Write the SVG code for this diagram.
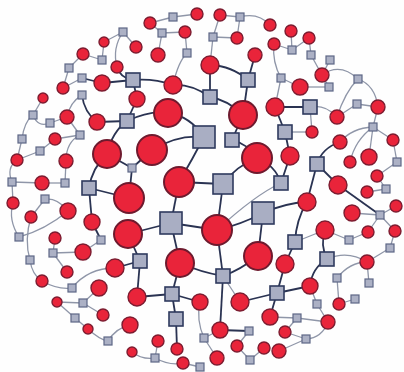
<svg xmlns="http://www.w3.org/2000/svg" width="404" height="372" viewBox="0 0 404 372">
<style>
.c{fill:#e9243a;stroke:#7c1c30;stroke-width:1.4}
.cb{fill:#e9243a;stroke:#6e1a2e;stroke-width:2}
.sm{fill:#acb1c5;stroke:#5d6685;stroke-width:1.2}
.sq{fill:#a9aec3;stroke:#2f3a5e;stroke-width:1.6}
.ed{fill:none;stroke:#2a3352;stroke-width:1.8}
.el{fill:none;stroke:#8f96a8;stroke-width:1.3}
</style>
<rect width="404" height="372" fill="#fefefe"/>
<g id="connectors">
<g class="ed">
<path d="M133 80 L102 83"/><path d="M133 80 Q153 78 173 85"/><path d="M133 80 L137 99"/><path d="M133 80 Q120 78 117 67"/>
<path d="M127 121 L137 99"/><path d="M127 121 L97 122"/><path d="M127 121 Q112 132 107 154"/><path d="M173 85 Q192 84 210 97"/>
<path d="M210 65 L210 97"/><path d="M210 65 Q232 66 248 80"/><path d="M248 80 L243 115"/><path d="M248 80 L255 55"/>
<path d="M210 97 Q228 100 243 115"/><path d="M168 113 Q190 116 204 137"/><path d="M204 137 Q178 134 152 150"/><path d="M204 137 Q192 160 179 182"/>
<path d="M232 140 Q248 144 257 158"/><path d="M257 158 Q275 165 281 183"/><path d="M179 182 L223 184"/><path d="M179 182 L171 223"/>
<path d="M223 184 L217 230"/><path d="M223 184 Q236 166 257 158"/><path d="M171 223 L217 230"/><path d="M171 223 L128 234"/>
<path d="M171 223 L180 263"/><path d="M217 230 Q240 225 263 213"/><path d="M263 213 L258 256"/><path d="M263 213 Q285 203 307 202"/>
<path d="M258 256 Q240 270 223 276"/><path d="M223 276 L217 230"/><path d="M223 276 L220 330"/><path d="M223 276 Q200 272 180 263"/>
<path d="M275 107 L310 107"/><path d="M275 107 L285 132"/><path d="M285 132 L290 156"/><path d="M290 156 L281 183"/>
<path d="M317 164 L338 185"/><path d="M317 164 L307 202"/><path d="M317 164 Q322 148 340 142"/><path d="M307 202 Q296 220 295 242"/>
<path d="M295 242 L285 264"/><path d="M285 264 L277 293"/><path d="M277 293 L240 302"/><path d="M277 293 L310 286"/>
<path d="M277 293 L270 317"/><path d="M310 286 Q312 268 327 259"/><path d="M327 259 Q320 245 325 230"/><path d="M338 185 L380 215"/>
<path d="M89 188 Q92 168 107 154"/><path d="M89 188 L129 198"/><path d="M89 188 L92 222"/><path d="M129 198 L132 168"/>
<path d="M107 154 L132 168"/><path d="M132 168 L152 150"/><path d="M128 234 L140 261"/><path d="M140 261 L115 268"/>
<path d="M140 261 L137 297"/><path d="M137 297 L172 294"/><path d="M172 294 L180 263"/><path d="M172 294 L200 302"/>
<path d="M172 294 L176 319"/><path d="M176 319 L177 349"/><path d="M92 222 L101 240"/><path d="M102 83 L82 78"/>
<path d="M82 95 Q84 112 97 122"/><path d="M220 330 L249 331"/><path d="M127 121 Q150 110 168 113"/><path d="M232 140 L243 115"/>
</g>
<g class="el">
<path d="M123 32 Q112 48 117 67"/><path d="M123 32 L136 47"/><path d="M123 32 L104 42"/><path d="M102 60 L83 54"/><path d="M102 60 L104 42"/>
<path d="M69 68 L83 54"/><path d="M69 68 L63 88"/><path d="M82 78 L63 88"/><path d="M82 95 Q70 102 67 117"/><path d="M43 98 L33 115"/>
<path d="M50 123 L67 117"/><path d="M33 115 Q38 128 50 123"/><path d="M22 139 L17 160"/><path d="M22 139 Q24 122 33 115"/>
<path d="M55 139 L80 135"/><path d="M55 139 L40 151"/><path d="M40 151 L17 160"/><path d="M80 135 Q66 142 66 161"/><path d="M80 135 L67 117"/>
<path d="M12 182 L42 183"/><path d="M42 183 L65 183"/><path d="M65 183 L66 161"/><path d="M12 182 L13 203"/><path d="M12 182 Q6 168 17 160"/>
<path d="M45 199 L31 217"/><path d="M45 199 Q58 198 68 211"/><path d="M19 237 Q8 220 13 203"/><path d="M19 237 Q45 230 68 211"/>
<path d="M55 238 L53 253"/><path d="M101 240 L83 252"/><path d="M30 260 Q24 240 31 217"/><path d="M30 260 Q32 275 42 281"/>
<path d="M53 253 L83 252"/><path d="M53 253 L67 272"/><path d="M42 281 Q58 290 72 288"/><path d="M72 288 Q88 268 115 268"/>
<path d="M83 303 L57 302"/><path d="M83 303 L99 288"/><path d="M83 303 L103 315"/><path d="M75 318 L57 302"/><path d="M75 318 L88 329"/>
<path d="M88 329 Q100 340 108 341"/><path d="M108 341 Q116 328 130 325"/><path d="M155 358 L158 341"/><path d="M155 358 Q142 360 132 352"/>
<path d="M155 358 Q170 366 183 363"/><path d="M200 367 L183 363"/><path d="M204 338 Q196 320 200 302"/><path d="M204 338 L217 358"/><path d="M204 338 L220 330"/>
<path d="M250 360 L237 346"/><path d="M250 360 L264 348"/><path d="M249 331 L237 346"/><path d="M240 302 L223 276"/>
<path d="M297 318 L270 317"/><path d="M297 318 L285 332"/><path d="M297 318 L328 322"/><path d="M306 339 Q322 338 328 322"/>
<path d="M306 339 L279 351"/><path d="M306 339 L285 332"/><path d="M317 304 L310 286"/><path d="M317 304 L328 322"/>
<path d="M327 259 Q348 250 367 262"/><path d="M367 262 L390 248"/><path d="M367 262 L369 283"/><path d="M367 262 Q350 262 337 278"/>
<path d="M337 278 L339 304"/><path d="M355 299 L339 304"/><path d="M380 215 L352 213"/><path d="M380 215 L396 206"/>
<path d="M380 215 L368 232"/><path d="M380 215 L395 231"/><path d="M349 240 L325 230"/><path d="M349 240 L368 232"/><path d="M390 248 L395 231"/>
<path d="M386 189 L367 192"/><path d="M386 189 L377 176"/><path d="M397 162 L393 140"/><path d="M397 162 L377 176"/>
<path d="M373 127 Q352 128 340 142"/><path d="M373 127 L393 140"/><path d="M373 127 L369 157"/><path d="M373 127 Q355 140 350 162"/><path d="M373 127 L378 107"/>
<path d="M285 132 L312 132"/><path d="M310 107 L312 132"/><path d="M310 107 Q325 104 337 117"/><path d="M357 104 L337 117"/><path d="M357 104 L378 107"/>
<path d="M358 79 Q340 62 322 75"/><path d="M358 79 Q345 92 337 117"/><path d="M358 79 Q375 85 378 107"/>
<path d="M329 87 L322 75"/><path d="M329 87 L300 87"/><path d="M330 60 L322 75"/><path d="M311 55 L309 38"/><path d="M311 55 L322 75"/>
<path d="M292 50 L291 31"/><path d="M292 50 L274 44"/><path d="M292 50 L309 38"/><path d="M274 44 Q272 62 281 78"/><path d="M281 78 L275 107"/><path d="M281 78 L300 87"/>
<path d="M240 17 L220 15"/><path d="M240 17 Q258 12 270 25"/><path d="M240 17 L237 38"/><path d="M213 37 L220 15"/><path d="M213 37 L237 38"/><path d="M213 37 L210 65"/>
<path d="M173 17 L197 14"/><path d="M173 17 L150 23"/><path d="M162 33 L150 23"/><path d="M162 33 L185 32"/><path d="M162 33 L158 55"/>
<path d="M187 53 L185 32"/><path d="M187 53 Q178 62 173 85"/><path d="M325 230 L295 242"/><path d="M217 230 Q255 195 281 183"/>
</g>
</g>
<g id="r1"><circle class="c" cx="104" cy="42" r="5"/></g>
<g id="r2"><circle class="c" cx="136" cy="47" r="6"/></g>
<g id="r3"><circle class="c" cx="83" cy="54" r="6"/></g>
<g id="r4"><circle class="c" cx="117" cy="67" r="6"/></g>
<g id="r5"><circle class="c" cx="102" cy="83" r="8"/></g>
<g id="r6"><circle class="c" cx="63" cy="88" r="6"/></g>
<g id="r7"><circle class="c" cx="43" cy="98" r="5"/></g>
<g id="r8"><circle class="c" cx="137" cy="99" r="8"/></g>
<g id="r9"><circle class="c" cx="67" cy="117" r="7"/></g>
<g id="r10"><circle class="c" cx="97" cy="122" r="8"/></g>
<g id="r11"><circle class="c" cx="150" cy="23" r="6"/></g>
<g id="r12"><circle class="c" cx="197" cy="14" r="6"/></g>
<g id="r13"><circle class="c" cx="220" cy="15" r="6"/></g>
<g id="r14"><circle class="c" cx="185" cy="32" r="6"/></g>
<g id="r15"><circle class="c" cx="237" cy="38" r="6"/></g>
<g id="r16"><circle class="c" cx="158" cy="55" r="7"/></g>
<g id="r17"><circle class="c" cx="255" cy="55" r="7"/></g>
<g id="r18"><circle class="c" cx="210" cy="65" r="9"/></g>
<g id="r19"><circle class="c" cx="173" cy="85" r="9"/></g>
<g id="r20"><circle class="cb" cx="168" cy="113" r="14"/></g>
<g id="r21"><circle class="cb" cx="243" cy="115" r="14"/></g>
<g id="r22"><circle class="c" cx="270" cy="25" r="6"/></g>
<g id="r23"><circle class="c" cx="291" cy="31" r="6"/></g>
<g id="r24"><circle class="c" cx="274" cy="44" r="6"/></g>
<g id="r25"><circle class="c" cx="309" cy="38" r="6"/></g>
<g id="r26"><circle class="c" cx="322" cy="75" r="7"/></g>
<g id="r27"><circle class="c" cx="300" cy="87" r="8"/></g>
<g id="r28"><circle class="c" cx="275" cy="107" r="9"/></g>
<g id="r29"><circle class="c" cx="337" cy="117" r="7"/></g>
<g id="r30"><circle class="c" cx="378" cy="107" r="7"/></g>
<g id="r31"><circle class="c" cx="312" cy="132" r="6"/></g>
<g id="r32"><circle class="c" cx="340" cy="142" r="7"/></g>
<g id="r33"><circle class="c" cx="393" cy="140" r="6"/></g>
<g id="r34"><circle class="c" cx="290" cy="156" r="9"/></g>
<g id="r35"><circle class="c" cx="350" cy="162" r="6"/></g>
<g id="r36"><circle class="c" cx="369" cy="157" r="8"/></g>
<g id="r37"><circle class="c" cx="377" cy="176" r="6"/></g>
<g id="r38"><circle class="c" cx="338" cy="185" r="9"/></g>
<g id="r39"><circle class="c" cx="367" cy="192" r="6"/></g>
<g id="r40"><circle class="c" cx="307" cy="202" r="9"/></g>
<g id="r41"><circle class="c" cx="396" cy="206" r="6"/></g>
<g id="r42"><circle class="c" cx="352" cy="213" r="8"/></g>
<g id="r43"><circle class="c" cx="368" cy="232" r="6"/></g>
<g id="r44"><circle class="c" cx="395" cy="231" r="6"/></g>
<g id="r45"><circle class="c" cx="325" cy="230" r="9"/></g>
<g id="r46"><circle class="cb" cx="152" cy="150" r="15"/></g>
<g id="r47"><circle class="cb" cx="257" cy="158" r="15"/></g>
<g id="r48"><circle class="cb" cx="179" cy="182" r="15"/></g>
<g id="r49"><circle class="cb" cx="129" cy="198" r="15"/></g>
<g id="r50"><circle class="cb" cx="217" cy="230" r="15"/></g>
<g id="r51"><circle class="cb" cx="128" cy="234" r="14"/></g>
<g id="r52"><circle class="cb" cx="180" cy="263" r="14"/></g>
<g id="r53"><circle class="cb" cx="258" cy="256" r="14"/></g>
<g id="r54"><circle class="c" cx="55" cy="139" r="6"/></g>
<g id="r55"><circle class="cb" cx="107" cy="154" r="14"/></g>
<g id="r56"><circle class="c" cx="17" cy="160" r="6"/></g>
<g id="r57"><circle class="c" cx="66" cy="161" r="7"/></g>
<g id="r58"><circle class="c" cx="42" cy="183" r="7"/></g>
<g id="r59"><circle class="c" cx="13" cy="203" r="6"/></g>
<g id="r60"><circle class="c" cx="68" cy="211" r="8"/></g>
<g id="r61"><circle class="c" cx="31" cy="217" r="6"/></g>
<g id="r62"><circle class="c" cx="92" cy="222" r="8"/></g>
<g id="r63"><circle class="c" cx="55" cy="238" r="6"/></g>
<g id="r64"><circle class="c" cx="83" cy="252" r="8"/></g>
<g id="r65"><circle class="c" cx="67" cy="272" r="6"/></g>
<g id="r66"><circle class="c" cx="115" cy="268" r="9"/></g>
<g id="r67"><circle class="c" cx="42" cy="281" r="6"/></g>
<g id="r68"><circle class="c" cx="99" cy="288" r="8"/></g>
<g id="r69"><circle class="c" cx="137" cy="297" r="9"/></g>
<g id="r70"><circle class="c" cx="57" cy="302" r="5"/></g>
<g id="r71"><circle class="c" cx="103" cy="315" r="6"/></g>
<g id="r72"><circle class="c" cx="130" cy="325" r="8"/></g>
<g id="r73"><circle class="c" cx="88" cy="329" r="5"/></g>
<g id="r74"><circle class="c" cx="158" cy="341" r="6"/></g>
<g id="r75"><circle class="c" cx="177" cy="349" r="6"/></g>
<g id="r76"><circle class="c" cx="132" cy="352" r="5"/></g>
<g id="r77"><circle class="c" cx="183" cy="363" r="6"/></g>
<g id="r78"><circle class="c" cx="200" cy="302" r="8"/></g>
<g id="r79"><circle class="c" cx="285" cy="264" r="9"/></g>
<g id="r80"><circle class="c" cx="367" cy="262" r="7"/></g>
<g id="r81"><circle class="c" cx="310" cy="286" r="8"/></g>
<g id="r82"><circle class="c" cx="240" cy="302" r="9"/></g>
<g id="r83"><circle class="c" cx="339" cy="304" r="6"/></g>
<g id="r84"><circle class="c" cx="270" cy="317" r="8"/></g>
<g id="r85"><circle class="c" cx="328" cy="322" r="7"/></g>
<g id="r86"><circle class="c" cx="220" cy="330" r="8"/></g>
<g id="r87"><circle class="c" cx="285" cy="332" r="6"/></g>
<g id="r88"><circle class="c" cx="237" cy="346" r="6"/></g>
<g id="r89"><circle class="c" cx="264" cy="348" r="6"/></g>
<g id="r90"><circle class="c" cx="279" cy="351" r="7"/></g>
<g id="r91"><circle class="c" cx="217" cy="358" r="7"/></g>
<g id="s1"><rect class="sm" x="119" y="28" width="8" height="8"/></g>
<g id="s2"><rect class="sm" x="98" y="56" width="8" height="8"/></g>
<g id="s3"><rect class="sm" x="65" y="64" width="8" height="8"/></g>
<g id="s4"><rect class="sm" x="78" y="74" width="8" height="8"/></g>
<g id="s5"><rect class="sq" x="126" y="73" width="14" height="14"/></g>
<g id="s6"><rect class="sm" x="78" y="91" width="8" height="8"/></g>
<g id="s7"><rect class="sm" x="29" y="111" width="8" height="8"/></g>
<g id="s8"><rect class="sm" x="46" y="119" width="8" height="8"/></g>
<g id="s9"><rect class="sq" x="120" y="114" width="14" height="14"/></g>
<g id="s10"><rect class="sm" x="169" y="13" width="8" height="8"/></g>
<g id="s11"><rect class="sm" x="158" y="29" width="8" height="8"/></g>
<g id="s12"><rect class="sm" x="236" y="13" width="8" height="8"/></g>
<g id="s13"><rect class="sm" x="209" y="33" width="8" height="8"/></g>
<g id="s14"><rect class="sm" x="183" y="49" width="8" height="8"/></g>
<g id="s15"><rect class="sq" x="241" y="73" width="14" height="14"/></g>
<g id="s16"><rect class="sq" x="203" y="90" width="14" height="14"/></g>
<g id="s17"><rect class="sm" x="288" y="46" width="8" height="8"/></g>
<g id="s18"><rect class="sm" x="307" y="51" width="8" height="8"/></g>
<g id="s19"><rect class="sm" x="326" y="56" width="8" height="8"/></g>
<g id="s20"><rect class="sm" x="277" y="74" width="8" height="8"/></g>
<g id="s21"><rect class="sm" x="325" y="83" width="8" height="8"/></g>
<g id="s22"><rect class="sm" x="354" y="75" width="8" height="8"/></g>
<g id="s23"><rect class="sq" x="303" y="100" width="14" height="14"/></g>
<g id="s24"><rect class="sm" x="353" y="100" width="8" height="8"/></g>
<g id="s25"><rect class="sq" x="278" y="125" width="14" height="14"/></g>
<g id="s26"><rect class="sm" x="369" y="123" width="8" height="8"/></g>
<g id="s27"><rect class="sm" x="393" y="158" width="8" height="8"/></g>
<g id="s28"><rect class="sq" x="310" y="157" width="14" height="14"/></g>
<g id="s29"><rect class="sq" x="193" y="126" width="22" height="22"/></g>
<g id="s30"><rect class="sq" x="225" y="133" width="14" height="14"/></g>
<g id="s31"><rect class="sq" x="213" y="174" width="20" height="20"/></g>
<g id="s32"><rect class="sq" x="274" y="176" width="14" height="14"/></g>
<g id="s33"><rect class="sm" x="382" y="185" width="8" height="8"/></g>
<g id="s34"><rect class="sq" x="252" y="202" width="22" height="22"/></g>
<g id="s35"><rect class="sq" x="160" y="212" width="22" height="22"/></g>
<g id="s36"><rect class="sm" x="376" y="211" width="8" height="8"/></g>
<g id="s37"><rect class="sm" x="345" y="236" width="8" height="8"/></g>
<g id="s38"><rect class="sq" x="288" y="235" width="14" height="14"/></g>
<g id="s39"><rect class="sm" x="386" y="244" width="8" height="8"/></g>
<g id="s40"><rect class="sm" x="18" y="135" width="8" height="8"/></g>
<g id="s41"><rect class="sm" x="76" y="131" width="8" height="8"/></g>
<g id="s42"><rect class="sm" x="36" y="147" width="8" height="8"/></g>
<g id="s43"><rect class="sm" x="128" y="164" width="8" height="8"/></g>
<g id="s44"><rect class="sm" x="8" y="178" width="8" height="8"/></g>
<g id="s45"><rect class="sm" x="61" y="179" width="8" height="8"/></g>
<g id="s46"><rect class="sq" x="82" y="181" width="14" height="14"/></g>
<g id="s47"><rect class="sm" x="41" y="195" width="8" height="8"/></g>
<g id="s48"><rect class="sm" x="15" y="233" width="8" height="8"/></g>
<g id="s49"><rect class="sm" x="97" y="236" width="8" height="8"/></g>
<g id="s50"><rect class="sm" x="26" y="256" width="8" height="8"/></g>
<g id="s51"><rect class="sm" x="49" y="249" width="8" height="8"/></g>
<g id="s52"><rect class="sq" x="133" y="254" width="14" height="14"/></g>
<g id="s53"><rect class="sm" x="68" y="284" width="8" height="8"/></g>
<g id="s54"><rect class="sq" x="165" y="287" width="14" height="14"/></g>
<g id="s55"><rect class="sm" x="79" y="299" width="8" height="8"/></g>
<g id="s56"><rect class="sm" x="71" y="314" width="8" height="8"/></g>
<g id="s57"><rect class="sq" x="169" y="312" width="14" height="14"/></g>
<g id="s58"><rect class="sm" x="104" y="337" width="8" height="8"/></g>
<g id="s59"><rect class="sm" x="151" y="354" width="8" height="8"/></g>
<g id="s60"><rect class="sm" x="196" y="363" width="8" height="8"/></g>
<g id="s61"><rect class="sq" x="320" y="252" width="14" height="14"/></g>
<g id="s62"><rect class="sq" x="216" y="269" width="14" height="14"/></g>
<g id="s63"><rect class="sm" x="333" y="274" width="8" height="8"/></g>
<g id="s64"><rect class="sm" x="365" y="279" width="8" height="8"/></g>
<g id="s65"><rect class="sq" x="270" y="286" width="14" height="14"/></g>
<g id="s66"><rect class="sm" x="351" y="295" width="8" height="8"/></g>
<g id="s67"><rect class="sm" x="313" y="300" width="8" height="8"/></g>
<g id="s68"><rect class="sm" x="293" y="314" width="8" height="8"/></g>
<g id="s69"><rect class="sm" x="302" y="335" width="8" height="8"/></g>
<g id="s70"><rect class="sm" x="245" y="327" width="8" height="8"/></g>
<g id="s71"><rect class="sm" x="200" y="334" width="8" height="8"/></g>
<g id="s72"><rect class="sm" x="246" y="356" width="8" height="8"/></g>
</svg>
